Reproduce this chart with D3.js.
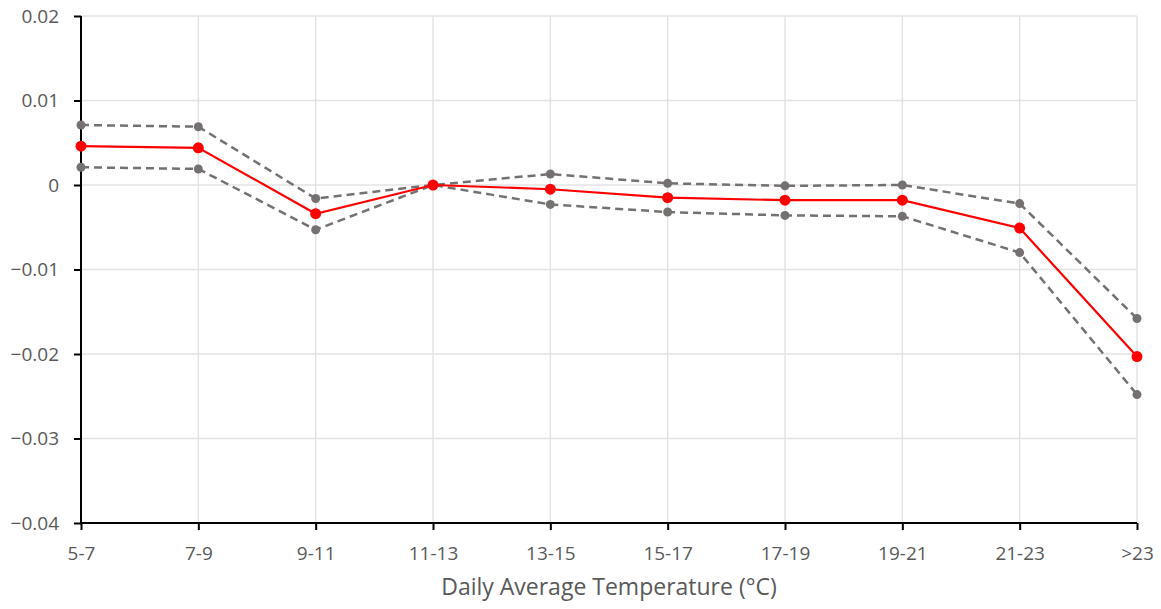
<!DOCTYPE html>
<html>
<head>
  <meta charset="utf-8">
  <script src="https://d3js.org/d3.v7.min.js"></script>
  <style>
    body { margin: 0; background: #fff; }
    text { font-family: "Open Sans", "Noto Sans", sans-serif; fill: #595959; }
  </style>
</head>
<body>
  <div id="chart"></div>
  <script>
    // categorias e series
    var categorias = ["5-7", "7-9", "9-11", "11-13", "13-15", "15-17", "17-19", "19-21", "21-23", ">23"];
    var estimativa = [0.0046, 0.0044, -0.0034, 0, -0.0005, -0.0015, -0.0018, -0.0018, -0.0051, -0.0203];
    var superior   = [0.0071, 0.0069, -0.0016, 0, 0.0013, 0.0002, -0.0001, 0.0000, -0.0022, -0.0158];
    var inferior   = [0.0021, 0.0019, -0.0053, 0, -0.0023, -0.0032, -0.0036, -0.0037, -0.0080, -0.0248];
    var yTicks = [-0.04, -0.03, -0.02, -0.01, 0, 0.01, 0.02];

    var larguraSVG = 1161, alturaSVG = 609;
    var margin = {top: 16, right: 24, bottom: 86, left: 81};
    var larguraVis = larguraSVG - margin.left - margin.right,
        alturaVis = alturaSVG - margin.top - margin.bottom;

    var x = d3.scalePoint().domain(categorias).range([0, larguraVis]).padding(0);
    var y = d3.scaleLinear().domain([-0.04, 0.02]).range([alturaVis, 0]);

    var svg = d3.select('#chart').append('svg')
        .attr('width', larguraSVG).attr('height', alturaSVG);
    var g = svg.append('g').attr('transform', 'translate(' + margin.left + ',' + margin.top + ')');

    // grade
    g.selectAll('.hgrid').data(yTicks).enter().append('line')
      .attr('x1', 0).attr('x2', larguraVis)
      .attr('y1', d => y(d)).attr('y2', d => y(d))
      .attr('stroke', '#e3e3e3').attr('stroke-width', 1.5);
    g.selectAll('.vgrid').data(categorias).enter().append('line')
      .attr('x1', d => x(d)).attr('x2', d => x(d))
      .attr('y1', 0).attr('y2', alturaVis)
      .attr('stroke', '#e3e3e3').attr('stroke-width', 1.5);

    // eixos
    var fmt = d => d === 0 ? "0" : d3.format(".2f")(d);
    var eixoY = g.append('g')
      .call(d3.axisLeft(y).tickValues(yTicks).tickFormat(fmt).tickSize(7).tickPadding(15));
    var eixoX = g.append('g').attr('transform', 'translate(0,' + alturaVis + ')')
      .call(d3.axisBottom(x).tickSize(7).tickPadding(17));
    [eixoY, eixoX].forEach(function (e) {
      e.attr('font-size', 19).attr('font-family', null);
      e.select('.domain').attr('stroke', '#000').attr('stroke-width', 2);
      e.selectAll('.tick line').attr('stroke', '#000').attr('stroke-width', 2);
      e.selectAll('.tick text').attr('fill', '#595959');
    });
    eixoY.select('.domain').attr('d', 'M0,' + alturaVis + 'V0');
    eixoX.select('.domain').attr('d', 'M0,0H' + larguraVis);

    svg.append('text')
      .attr('x', margin.left + larguraVis / 2).attr('y', 595)
      .attr('text-anchor', 'middle').attr('font-size', 23)
      .text('Daily Average Temperature (°C)');

    var linha = d3.line().x((d, i) => x(categorias[i])).y(d => y(d));

    function desenhaSerie(valores, cor, largura, tracejado, raio) {
      g.append('path').datum(valores)
        .attr('d', linha).attr('fill', 'none')
        .attr('stroke', cor).attr('stroke-width', largura)
        .attr('stroke-dasharray', tracejado);
      g.selectAll(null).data(valores).enter().append('circle')
        .attr('cx', (d, i) => x(categorias[i])).attr('cy', d => y(d))
        .attr('r', raio).attr('fill', cor);
    }

    desenhaSerie(superior, '#767171', 2.5, '8,5', 4.5);
    desenhaSerie(inferior, '#767171', 2.5, '8,5', 4.5);
    desenhaSerie(estimativa, '#ff0000', 2.2, null, 5.5);
  </script>
</body>
</html>
